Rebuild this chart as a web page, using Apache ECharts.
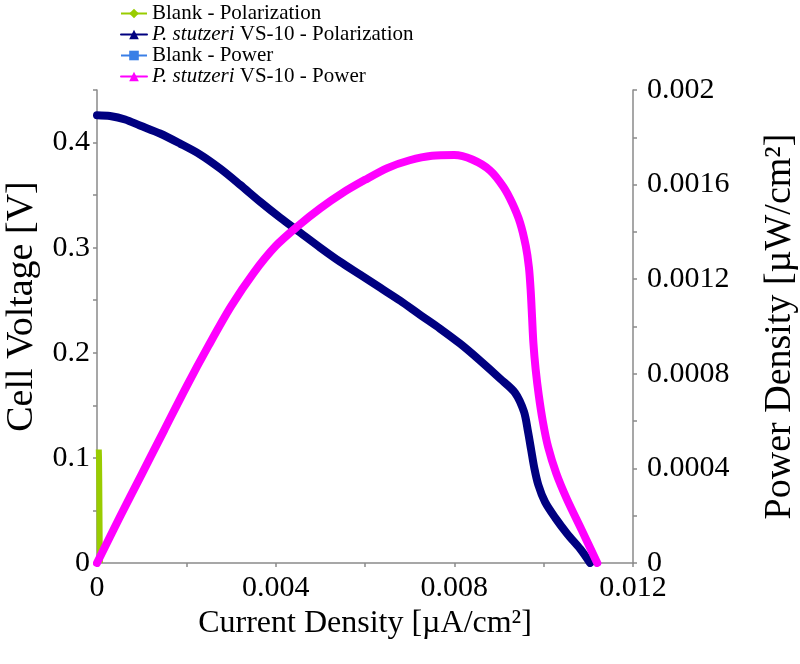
<!DOCTYPE html>
<html>
<head>
<meta charset="utf-8">
<script src="https://cdn.jsdelivr.net/npm/echarts@6/dist/echarts.min.js"></script>
<style>
  html, body { margin: 0; padding: 0; background: #fff; }
  #chart { width: 800px; height: 664px; }
</style>
</head>
<body>
<div id="chart"></div>
<script>
  // 数据
  const blankPolX = [0.00004, 0.000045, 0.00005, 0.000055, 0.00006, 0.000065]
  const blankPolV = [0.108, 0.1, 0.08, 0.05, 0.02, 0]

  const pstPolX = [0, 0.00029, 0.00063, 0.00096, 0.00141, 0.00186, 0.00231, 0.00276, 0.0032, 0.00365,
    0.0041, 0.00455, 0.005, 0.00544, 0.00589, 0.00634, 0.00679, 0.00723, 0.00768, 0.00813,
    0.00858, 0.00903, 0.00936, 0.00956, 0.00965, 0.00972, 0.00979, 0.00988, 0.01003, 0.01026,
    0.01053, 0.01082, 0.01104]
  const pstPolV = [0.426, 0.4252, 0.4219, 0.4162, 0.4086, 0.399, 0.3886, 0.3752, 0.36, 0.3438,
    0.3286, 0.3143, 0.3, 0.2867, 0.2743, 0.2619, 0.2495, 0.2362, 0.2229, 0.2086,
    0.1924, 0.1752, 0.1619, 0.1438, 0.1248, 0.1076, 0.0905, 0.0743, 0.0581, 0.0429,
    0.0276, 0.0133, 0]

  const blankPowX = [0.00002, 0.00004, 0.00006]
  const blankPowP = [0.000002, 0.000004, 0.000002]

  const pstPowX = [0, 0.0005, 0.001, 0.0015, 0.002, 0.0025, 0.003, 0.0035, 0.004, 0.0045,
    0.005, 0.0055, 0.006, 0.0065, 0.007, 0.0075, 0.008, 0.0084, 0.0088, 0.0091,
    0.0093, 0.00947, 0.0096, 0.00967, 0.00971, 0.00974, 0.00977, 0.00982, 0.00989, 0.00998,
    0.0101, 0.01028, 0.01052, 0.01085, 0.0112]
  const pstPowP = [0, 0.00019, 0.000375, 0.00056, 0.000745, 0.00092, 0.001085, 0.001225, 0.00134, 0.001425,
    0.0015, 0.001565, 0.00162, 0.00167, 0.001703, 0.001722, 0.001725, 0.001706, 0.00166, 0.00159,
    0.00152, 0.00144, 0.00134, 0.00125, 0.00115, 0.00104, 0.00093, 0.00082, 0.00071, 0.0006,
    0.00049, 0.00038, 0.00027, 0.00014, 0]

  const seriesNames = ['Blank - Polarization', 'P. stutzeri VS-10 - Polarization', 'Blank - Power', 'P. stutzeri VS-10 - Power']

  const font = 'Liberation Serif'
  const axisGray = '#8a8a8a'

  function pairs(xs, ys) {
    return xs.map(function (x, i) { return [x, ys[i]] })
  }

  const myChart = echarts.init(document.getElementById('chart'))

  const axisCommon = {
    axisLine: { show: true, lineStyle: { color: axisGray, width: 1.5 } },
    axisTick: { show: true, inside: false, length: 4, lineStyle: { color: axisGray, width: 1.5 } },
    splitLine: { show: false },
    nameLocation: 'middle'
  }

  const option = {
    animation: false,
    backgroundColor: '#fff',
    legend: {
      orient: 'vertical',
      left: 115,
      top: -2,
      itemWidth: 26,
      itemHeight: 12,
      itemGap: 0,
      data: seriesNames,
      formatter: function (name) {
        if (name.indexOf('P. stutzeri') === 0) {
          return '{i|P. stutzeri}' + name.slice('P. stutzeri'.length)
        }
        return name
      },
      textStyle: {
        fontFamily: font,
        fontSize: 21,
        lineHeight: 21,
        color: '#000',
        rich: {
          i: { fontFamily: font, fontSize: 21, lineHeight: 21, fontStyle: 'italic', color: '#000' }
        }
      }
    },
    grid: {
      left: 97,
      right: 167,
      top: 90,
      bottom: 101,
      outerBoundsMode: 'none'
    },
    xAxis: Object.assign({}, axisCommon, {
      type: 'value',
      min: 0,
      max: 0.012,
      interval: 0.002,
      name: 'Current Density [µA/cm²]',
      nameGap: 31,
      nameTextStyle: { fontFamily: font, fontSize: 32, color: '#000' },
      axisLabel: {
        fontFamily: font, fontSize: 30, color: '#000', margin: 10,
        formatter: function (v) {
          const k = Math.round(v * 1000)
          return k % 4 === 0 ? String(k / 1000) : ''
        }
      }
    }),
    yAxis: [
      Object.assign({}, axisCommon, {
        type: 'value',
        position: 'left',
        min: 0,
        max: 0.45,
        interval: 0.05,
        name: 'Cell Voltage [V]',
        nameGap: 56,
        nameTextStyle: { fontFamily: font, fontSize: 38, color: '#000', padding: [0, 0, 0, 40] },
        axisLabel: {
          fontFamily: font, fontSize: 30, color: '#000', margin: 7,
          formatter: function (v) {
            const k = Math.round(v * 100)
            return k % 10 === 0 ? String(k / 100) : ''
          }
        }
      }),
      Object.assign({}, axisCommon, {
        type: 'value',
        position: 'right',
        min: 0,
        max: 0.002,
        interval: 0.0002,
        name: 'Power Density [µW/cm²]',
        nameGap: 128,
        nameTextStyle: { fontFamily: font, fontSize: 38, color: '#000' },
        axisLabel: {
          fontFamily: font, fontSize: 30, color: '#000', margin: 14,
          formatter: function (v) {
            const k = Math.round(v * 10000)
            return k % 4 === 0 ? String(k / 10000) : ''
          }
        }
      })
    ],
    series: [
      {
        name: seriesNames[0],
        type: 'line',
        yAxisIndex: 0,
        data: pairs(blankPolX, blankPolV),
        showSymbol: false,
        clip: false,
        symbol: 'diamond',
        symbolSize: 7,
        color: '#99cc00',
        lineStyle: { width: 6, color: '#99cc00' }
      },
      {
        name: seriesNames[1],
        type: 'line',
        yAxisIndex: 0,
        data: pairs(pstPolX, pstPolV),
        showSymbol: false,
        smooth: 0.3,
        symbol: 'triangle',
        symbolSize: 8,
        color: '#000080',
        lineStyle: { width: 8, color: '#000080', join: 'round', cap: 'round' }
      },
      {
        name: seriesNames[2],
        type: 'line',
        yAxisIndex: 1,
        data: pairs(blankPowX, blankPowP),
        showSymbol: false,
        clip: false,
        symbol: 'rect',
        symbolSize: 5,
        color: '#3a7fe6',
        lineStyle: { width: 5, color: '#3a7fe6' }
      },
      {
        name: seriesNames[3],
        type: 'line',
        yAxisIndex: 1,
        data: pairs(pstPowX, pstPowP),
        showSymbol: false,
        smooth: 0.3,
        symbol: 'triangle',
        symbolSize: 8,
        color: '#ff00ff',
        lineStyle: { width: 8, color: '#ff00ff', join: 'round', cap: 'round' }
      }
    ]
  }

  myChart.setOption(option)
</script>
</body>
</html>
